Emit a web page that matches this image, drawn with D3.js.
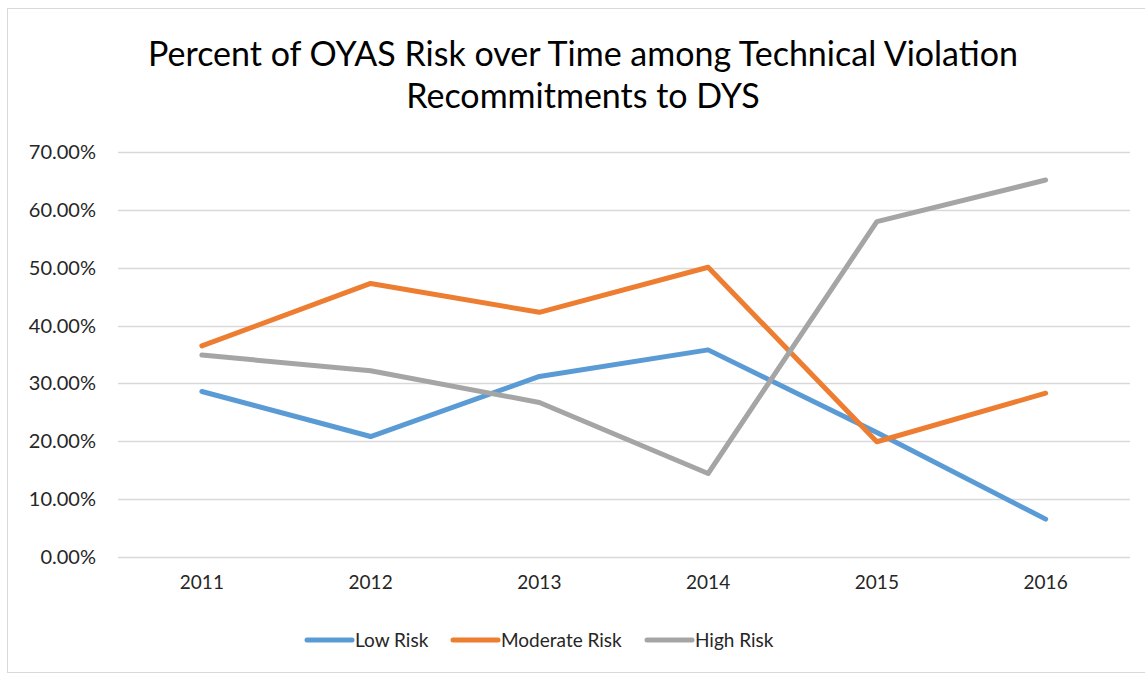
<!DOCTYPE html>
<html>
<head>
<meta charset="utf-8">
<script src="https://cdn.jsdelivr.net/npm/d3@7"></script>
<style>
  body { margin: 0; background: #fff; }
  svg { font-family: Lato, "Open Sans", sans-serif; }
</style>
</head>
<body>
<div class="container"></div>
<script>
const years = ["2011", "2012", "2013", "2014", "2015", "2016"];
const lowRisk = [28.6, 20.8, 31.2, 35.8, 21.5, 6.5];
const moderateRisk = [36.5, 47.3, 42.3, 50.1, 19.9, 28.3];
const highRisk = [34.9, 32.2, 26.7, 14.4, 58.0, 65.2];
const yTicks = [0, 10, 20, 30, 40, 50, 60, 70];
const seriesNames = ["Low Risk", "Moderate Risk", "High Risk"];
const colors = ["#5B9BD5", "#ED7D31", "#A5A5A5"];

const w = 1145;
const h = 675;
const labelColor = "#262626";

const series = [lowRisk, moderateRisk, highRisk].map((vals, i) => ({
  name: seriesNames[i],
  color: colors[i],
  values: vals
}));

const svg = d3.select(".container")
  .append("svg")
  .attr("width", w)
  .attr("height", h);

// chart frame
svg.append("rect")
  .attr("x", 7.5).attr("y", 8.5)
  .attr("width", w).attr("height", 664)
  .attr("fill", "none")
  .attr("stroke", "#d9d9d9")
  .attr("stroke-width", 1);

// title
const title = svg.append("text")
  .attr("text-anchor", "middle")
  .attr("font-size", 34)
  .attr("fill", "#000");
title.append("tspan").attr("x", 583).attr("y", 66)
  .text("Percent of OYAS Risk over Time among Technical Violation");
title.append("tspan").attr("x", 583).attr("y", 108)
  .text("Recommitments to DYS");

const xScale = d3.scaleBand()
  .domain(years)
  .range([117.5, 1130]);

const yScale = d3.scaleLinear()
  .domain([0, 70])
  .range([556.7, 152.3]);

// gridlines
svg.append("g")
  .selectAll("line")
  .data(yTicks)
  .join("line")
  .attr("x1", 118).attr("x2", 1130)
  .attr("y1", d => Math.round(yScale(d)) + 0.5)
  .attr("y2", d => Math.round(yScale(d)) + 0.5)
  .attr("stroke", "#d9d9d9")
  .attr("stroke-width", 1.3);

const yAxis = d3.axisLeft(yScale)
  .tickValues(yTicks)
  .tickFormat(d => d.toFixed(2) + "%")
  .tickSize(0)
  .tickPadding(0);

svg.append("g")
  .attr("transform", "translate(96,0)")
  .call(yAxis)
  .call(g => g.select(".domain").remove())
  .selectAll("text")
  .attr("font-size", 20)
  .attr("fill", labelColor)
  .attr("font-family", "Lato, 'Open Sans', sans-serif");

const xAxis = d3.axisBottom(xScale)
  .tickSize(0)
  .tickPadding(0);

svg.append("g")
  .attr("transform", "translate(0,575)")
  .call(xAxis)
  .call(g => g.select(".domain").remove())
  .selectAll("text")
  .attr("font-size", 19)
  .attr("fill", labelColor)
  .attr("font-family", "Lato, 'Open Sans', sans-serif");

const line = d3.line()
  .x((d, i) => xScale(years[i]) + xScale.bandwidth() / 2)
  .y(d => yScale(d));

svg.append("g")
  .selectAll("path")
  .data(series)
  .join("path")
  .attr("d", d => line(d.values))
  .attr("fill", "none")
  .attr("stroke", d => d.color)
  .attr("stroke-width", 5)
  .attr("stroke-linecap", "round")
  .attr("stroke-linejoin", "round");

// legend
const legendX = [307, 453, 647];
const legend = svg.append("g")
  .selectAll("g")
  .data(series)
  .join("g")
  .attr("transform", (d, i) => "translate(" + legendX[i] + ",640)");

legend.append("line")
  .attr("x1", 0).attr("x2", 45)
  .attr("y1", 0).attr("y2", 0)
  .attr("stroke", d => d.color)
  .attr("stroke-width", 5)
  .attr("stroke-linecap", "round");

legend.append("text")
  .attr("x", 48)
  .attr("y", 0)
  .attr("dy", "0.35em")
  .attr("font-size", 19)
  .attr("fill", labelColor)
  .text(d => d.name);
</script>
</body>
</html>
